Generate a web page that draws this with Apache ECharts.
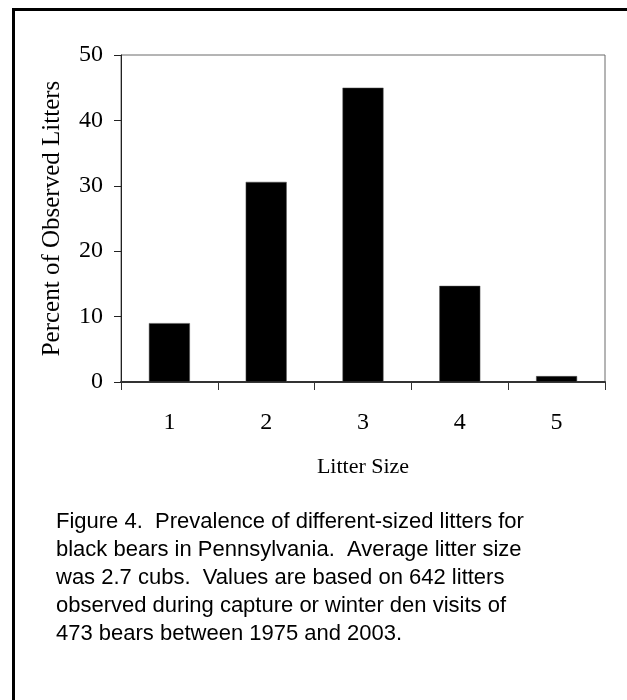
<!DOCTYPE html>
<html>
<head>
<meta charset="utf-8">
<script src="https://cdn.jsdelivr.net/npm/echarts@6/dist/echarts.min.js"></script>
<style>
  html, body { margin: 0; padding: 0; background: #fff; }
  #chart { width: 627px; height: 700px; }
</style>
</head>
<body>
<div id="chart"></div>
<script>
// ---- data ----
const categories = ['1', '2', '3', '4', '5'];
const percentValues = [9.0, 30.6, 45.0, 14.7, 0.9];
const yTicks = [0, 10, 20, 30, 40, 50];
const yAxisTitle = 'Percent of Observed Litters';
const xAxisTitle = 'Litter Size';
const captionLines = [
  'Figure 4.  Prevalence of different-sized litters for',
  'black bears in Pennsylvania.  Average litter size',
  'was 2.7 cubs.  Values are based on 642 litters',
  'observed during capture or winter den visits of',
  '473 bears between 1975 and 2003.'
];

const serif = '"Liberation Serif", "Times New Roman", serif';
const sans = '"Liberation Sans", Arial, sans-serif';

const chart = echarts.init(document.getElementById('chart'), null, { renderer: 'canvas' });

chart.setOption({
  backgroundColor: '#ffffff',
  animation: false,
  grid: {
    left: 121, top: 55, width: 484, height: 327,
    show: true, borderColor: '#6a6a6a', borderWidth: 1, backgroundColor: 'transparent',
    containLabel: false
  },
  xAxis: {
    type: 'category',
    data: categories,
    boundaryGap: true,
    name: xAxisTitle,
    nameLocation: 'middle',
    nameGap: 74,
    nameTextStyle: { fontFamily: serif, fontSize: 22, color: '#000' },
    axisLine: { show: true, lineStyle: { color: '#333', width: 2 } },
    axisTick: { show: true, inside: false, length: 8, alignWithLabel: false, lineStyle: { color: '#333', width: 1 } },
    axisLabel: { margin: 29, fontFamily: serif, fontSize: 24, color: '#000' },
    splitLine: { show: false }
  },
  yAxis: {
    type: 'value',
    min: yTicks[0],
    max: yTicks[yTicks.length - 1],
    interval: 10,
    name: yAxisTitle,
    nameLocation: 'middle',
    nameRotate: 90,
    nameGap: 56,
    nameTextStyle: { fontFamily: serif, fontSize: 25, color: '#000' },
    axisLine: { show: true, lineStyle: { color: '#222', width: 1 } },
    axisTick: { show: true, inside: false, length: 7, lineStyle: { color: '#222', width: 1 } },
    axisLabel: { margin: 18, fontFamily: serif, fontSize: 24, color: '#000' },
    splitLine: { show: false }
  },
  series: [{
    type: 'bar',
    data: percentValues,
    barWidth: 41,
    itemStyle: { color: '#000000', borderColor: '#555', borderWidth: 0.5 },
    label: { show: false }
  }],
  graphic: [
    {
      type: 'rect',
      silent: true,
      shape: { x: 13.5, y: 9.5, width: 800, height: 800 },
      style: { fill: 'none', stroke: '#000', lineWidth: 3 }
    },
    {
      type: 'text',
      left: 56,
      top: 508,
      silent: true,
      style: {
        text: captionLines.join('\n'),
        font: '22px ' + sans,
        fill: '#000',
        lineHeight: 28
      }
    }
  ]
});
</script>
</body>
</html>
